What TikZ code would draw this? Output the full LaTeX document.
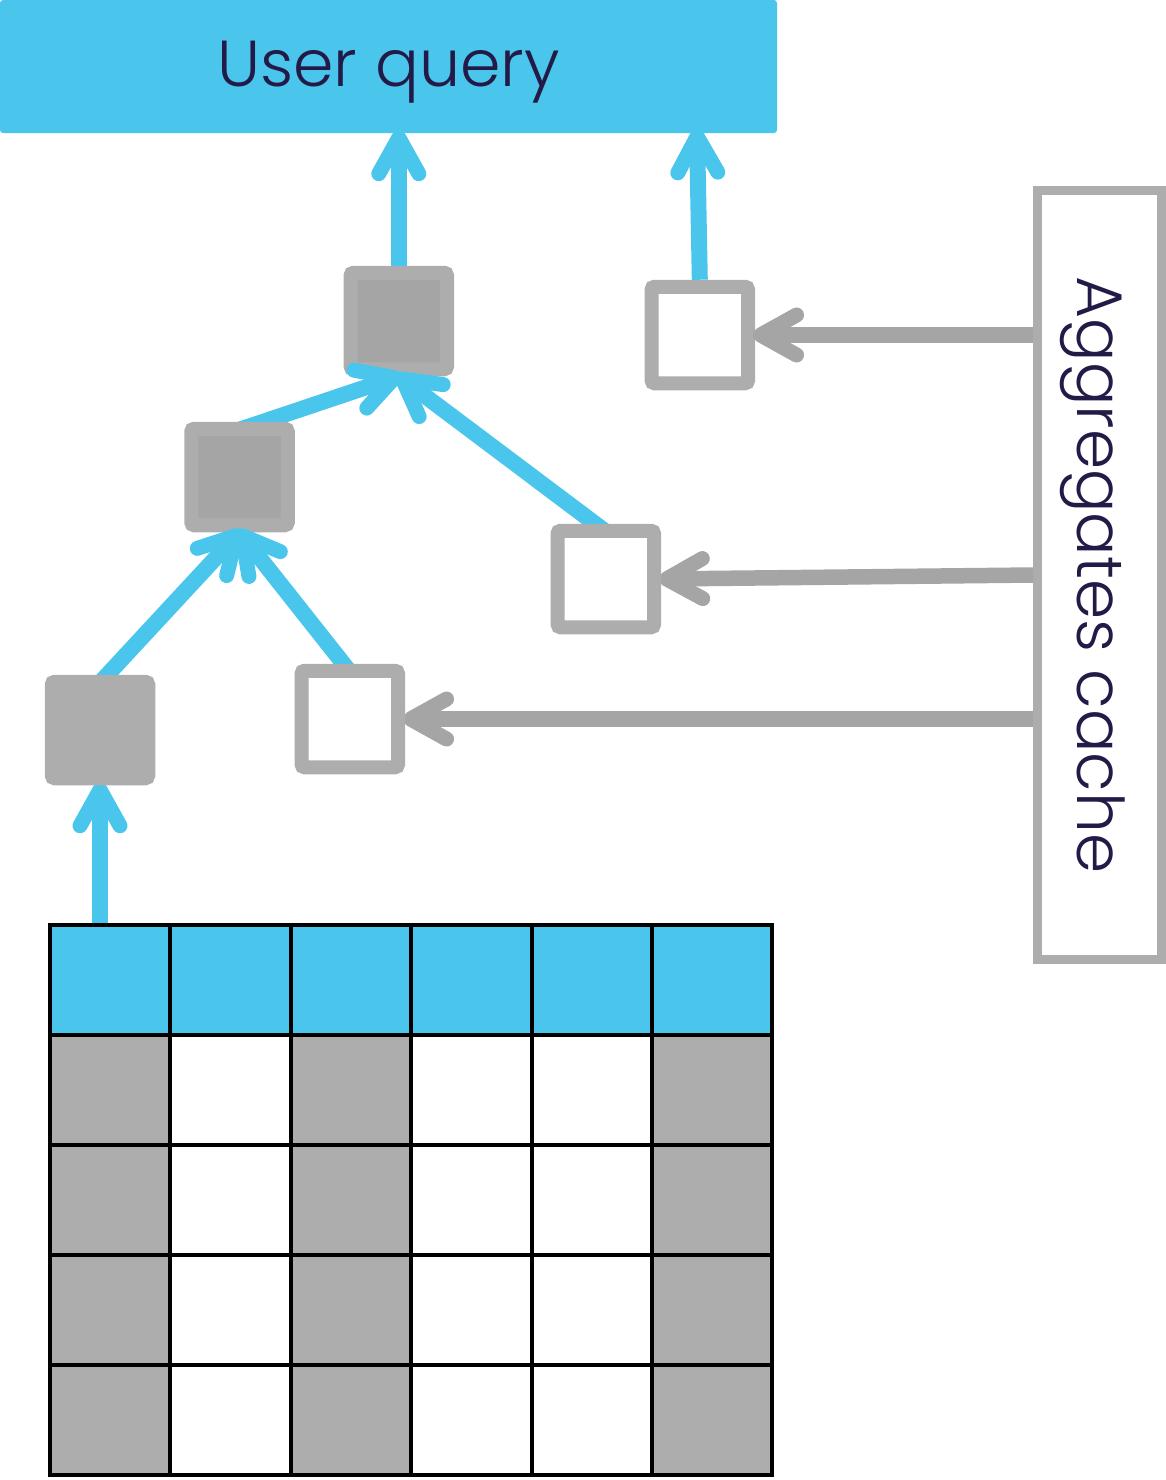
\documentclass[tikz,border=0pt]{standalone}
\usepackage{fontspec}
\setmainfont{Poppins}[UprightFont=* Light]
\usetikzlibrary{arrows.meta}
\definecolor{skyblue}{HTML}{4AC6EC}
\definecolor{midgrey}{HTML}{ADADAD}
\definecolor{darkgrey}{HTML}{A5A5A5}
\definecolor{inkblue}{HTML}{231A47}
\pgfdeclarelayer{toparrows}
\pgfdeclarelayer{midboxes}
\pgfdeclarelayer{midarrows}
\pgfdeclarelayer{lowboxes}
\pgfsetlayers{main,toparrows,midboxes,midarrows,lowboxes}
\tikzset{
  aggbox/.style={draw=midgrey, line width=14pt, rounded corners=3pt, minimum size=96.5pt, inner sep=0pt},
  used/.style={aggbox, fill=darkgrey},
  cached/.style={aggbox, fill=white},
  tablecell/.style={draw=black, line width=4pt, minimum width=120.4pt, minimum height=110pt, inner sep=0pt},
  uparrow/.style={skyblue, line width=16pt, shorten >=-3pt, -{Straight Barb[round, length=36pt, width=40pt, line width=15pt]}},
  cachearrow/.style={darkgrey, line width=15.5pt, shorten >=-2pt, -{Straight Barb[round, length=36pt, width=40pt, line width=15pt]}}
}

\begin{document}
\begin{tikzpicture}[x=1pt,y=-1pt]
   \useasboundingbox (0,0) rectangle (1165,1480);
   \node[fill=skyblue, rounded corners=3pt, minimum width=777pt, minimum height=133pt, inner sep=0pt,
         text=inkblue, text height=45pt, text depth=6pt, font=\fontsize{65}{67}\selectfont] (query) at (388.5,66.5) {User query};
   \node[draw=midgrey, line width=8.5pt, rotate=-90, minimum width=769pt, minimum height=124pt, inner sep=0pt,
         text=inkblue, text height=50pt, text depth=5pt, font=\fontsize{64.5}{67}\selectfont] (cache) at (1099.5,575) {Aggregates cache};

   \node[used] (top) at (398.8,321) {};
   \node[cached] (cacheA) at (699.8,335) {};
   \begin{pgfonlayer}{midboxes}
     \node[used] (mid) at (239.5,477) {};
     \node[cached] (cacheB) at (605.8,579) {};
   \end{pgfonlayer}
   \begin{pgfonlayer}{lowboxes}
     \node[aggbox, fill=midgrey] (low) at (100,730) {};
     \node[cached] (cacheC) at (349.8,719) {};
   \end{pgfonlayer}

   % table, header row first
   \foreach \col in {1,...,6}
     \node[tablecell, fill=skyblue] (cell\col1) at ({110.2+120.4*(\col-1)},980) {};
   \foreach \col/\shade in {1/midgrey,2/white,3/midgrey,4/white,5/white,6/midgrey}
     \foreach \row in {2,...,5}
       \node[tablecell, fill=\shade] (cell\col\row) at ({110.2+120.4*(\col-1)},{980+110*(\row-1)}) {};

   \coordinate (queryright) at (697,132);
   \draw[uparrow] (top.north) -- (top.north |- query.south);
   \draw[uparrow] (cacheA.north) -- (queryright);
   \begin{pgfonlayer}{toparrows}
     \draw[uparrow] ([yshift=-8pt]mid.north) -- (top.south);
     \draw[uparrow] ([yshift=-8pt]cacheB.north) -- (top.south);
   \end{pgfonlayer}
   \begin{pgfonlayer}{midarrows}
     \draw[uparrow] ([yshift=-8pt]low.north) -- (mid.south);
     \draw[uparrow] ([yshift=-8pt]cacheC.north) -- (mid.south);
   \end{pgfonlayer}
   \draw[uparrow] (low.south |- cell11.north) -- (low.south);

   \draw[cachearrow] (cache.south |- cacheA.east) -- (cacheA.east);
   \draw[cachearrow] (cache.south) -- (cacheB.east);
   \draw[cachearrow] (cache.south |- cacheC.east) -- (cacheC.east);
\end{tikzpicture}
\end{document}
